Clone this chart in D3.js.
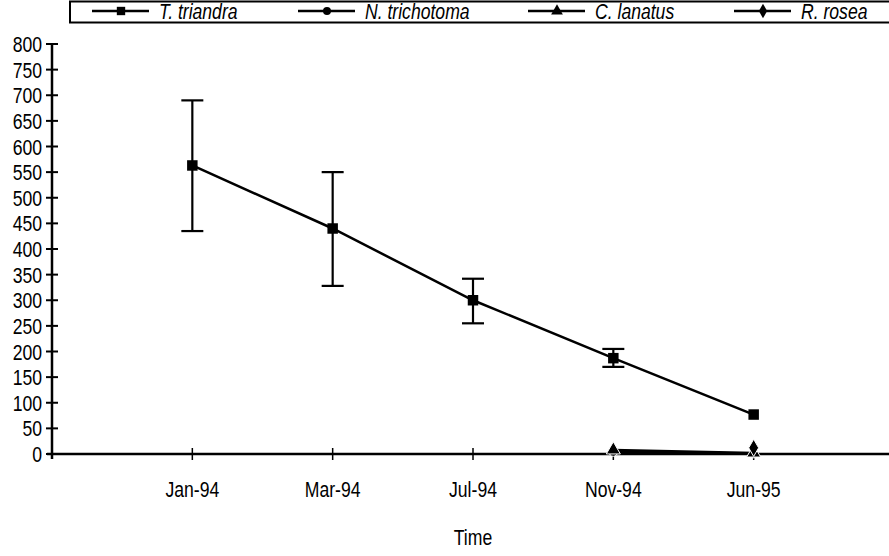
<!DOCTYPE html>
<html>
<head>
<meta charset="utf-8">
<script src="https://cdn.jsdelivr.net/npm/d3@7/dist/d3.min.js"></script>
<style>
  html, body { margin: 0; padding: 0; background: #fff; }
  svg { display: block; }
  text { font-family: "Liberation Sans", Arial, sans-serif; fill: #000; }
</style>
</head>
<body>
<svg id="chart" width="889" height="556"></svg>
<script>
// ---- data ----
const categories = ["Jan-94", "Mar-94", "Jul-94", "Nov-94", "Jun-95"];
const seriesNames = ["T. triandra", "N. trichotoma", "C. lanatus", "R. rosea"];
const triandra = [563, 440, 300, 187, 77];
const triandraLow = [435, 328, 255, 170, 77];
const triandraHigh = [690, 550, 342, 205, 77];
const trichotoma = [null, null, null, 4, 1];
const lanatus = [null, null, null, 8, 2];
const rosea = [null, null, null, null, 12];
const yTicks = [0, 50, 100, 150, 200, 250, 300, 350, 400, 450, 500, 550, 600, 650, 700, 750, 800];
const xTitle = "Time";

// ---- layout ----
const svg = d3.select("#chart");
const x0 = 52, x1 = 894, yTop = 44, yBot = 454;
const x = d3.scalePoint().domain(categories).range([x0, x1]).padding(1);
const y = d3.scaleLinear().domain([0, 800]).range([yBot, yTop]);
const NARROW = 0.8, FS = 22;

function narrowText(g, tx, ty, str, anchor, size, italic) {
  return g.append("text")
    .attr("transform", `translate(${tx},${ty}) scale(${NARROW},1)`)
    .attr("text-anchor", anchor)
    .style("font-size", size + "px")
    .style("font-style", italic ? "italic" : "normal")
    .text(str);
}

// y axis
const gy = svg.append("g");
yTicks.forEach(t => narrowText(gy, 42, y(t) + 8, String(t), "end", FS, false));
svg.append("line").attr("x1", x0).attr("x2", x0).attr("y1", yTop).attr("y2", yBot + 5)
  .attr("stroke", "#000").attr("stroke-width", 2.5);
svg.selectAll(".ytk").data(yTicks).join("line").attr("class", "ytk")
  .attr("x1", x0 - 6).attr("x2", x0 + 6).attr("y1", d => y(d)).attr("y2", d => y(d))
  .attr("stroke", "#000").attr("stroke-width", 2);

// x axis
svg.append("line").attr("x1", x0 - 5).attr("x2", 889).attr("y1", yBot).attr("y2", yBot)
  .attr("stroke", "#000").attr("stroke-width", 2.5);
svg.selectAll(".xtk").data(categories).join("line").attr("class", "xtk")
  .attr("x1", d => x(d)).attr("x2", d => x(d)).attr("y1", yBot - 6).attr("y2", yBot + 6)
  .attr("stroke", "#000").attr("stroke-width", 1.5);
const gx = svg.append("g");
categories.forEach(c => narrowText(gx, x(c), 497, c, "middle", FS, false));
narrowText(svg, x(categories[2]), 545, xTitle, "middle", FS, false);

// ---- error bars ----
const eb = svg.append("g");
categories.forEach((c, i) => {
  if (triandraHigh[i] === triandraLow[i]) return;
  const cx = x(c);
  eb.append("line").attr("x1", cx).attr("x2", cx).attr("y1", y(triandraLow[i])).attr("y2", y(triandraHigh[i]))
    .attr("stroke", "#000").attr("stroke-width", 2.2);
  [triandraLow[i], triandraHigh[i]].forEach(v => {
    eb.append("line").attr("x1", cx - 11).attr("x2", cx + 11).attr("y1", y(v)).attr("y2", y(v))
      .attr("stroke", "#000").attr("stroke-width", 2.2);
  });
});

// ---- series ----
const line = d3.line().defined(d => d.v != null).x(d => x(d.c)).y(d => y(d.v));
const symbols = [d3.symbolSquare, d3.symbolCircle, d3.symbolTriangle, d3.symbolDiamond];
const symSizes = [110, 60, 85, 85];
const allSeries = [triandra, trichotoma, lanatus, rosea];

allSeries.forEach((vals, si) => {
  const pts = categories.map((c, i) => ({ c, v: vals[i] }));
  svg.append("path").attr("d", line(pts)).attr("fill", "none")
    .attr("stroke", "#000").attr("stroke-width", 2.5);
  svg.selectAll(".m" + si).data(pts.filter(d => d.v != null)).join("path").attr("class", "m" + si)
    .attr("d", d3.symbol().type(symbols[si]).size(symSizes[si]))
    .attr("transform", d => `translate(${x(d.c)},${y(d.v)})`)
    .attr("fill", "#000").attr("stroke", si === 0 ? "none" : "#fff").attr("stroke-width", si === 0 ? 0 : 1);
});

// ---- legend ----
svg.append("rect").attr("x", 70).attr("y", 1.5).attr("width", 830).attr("height", 21)
  .attr("fill", "#fff").attr("stroke", "#000").attr("stroke-width", 2);
const legX = [92, 298, 528, 734];
seriesNames.forEach((n, si) => {
  const lx = legX[si], ly = 11;
  svg.append("line").attr("x1", lx).attr("x2", lx + 57).attr("y1", ly).attr("y2", ly)
    .attr("stroke", "#000").attr("stroke-width", 2.5);
  svg.append("path").attr("d", d3.symbol().type(symbols[si]).size([70, 50, 60, 60][si])())
    .attr("transform", `translate(${lx + 29},${ly})`).attr("fill", "#000");
  narrowText(svg, lx + 67, ly + 8, n, "start", FS, true);
});
</script>
</body>
</html>
